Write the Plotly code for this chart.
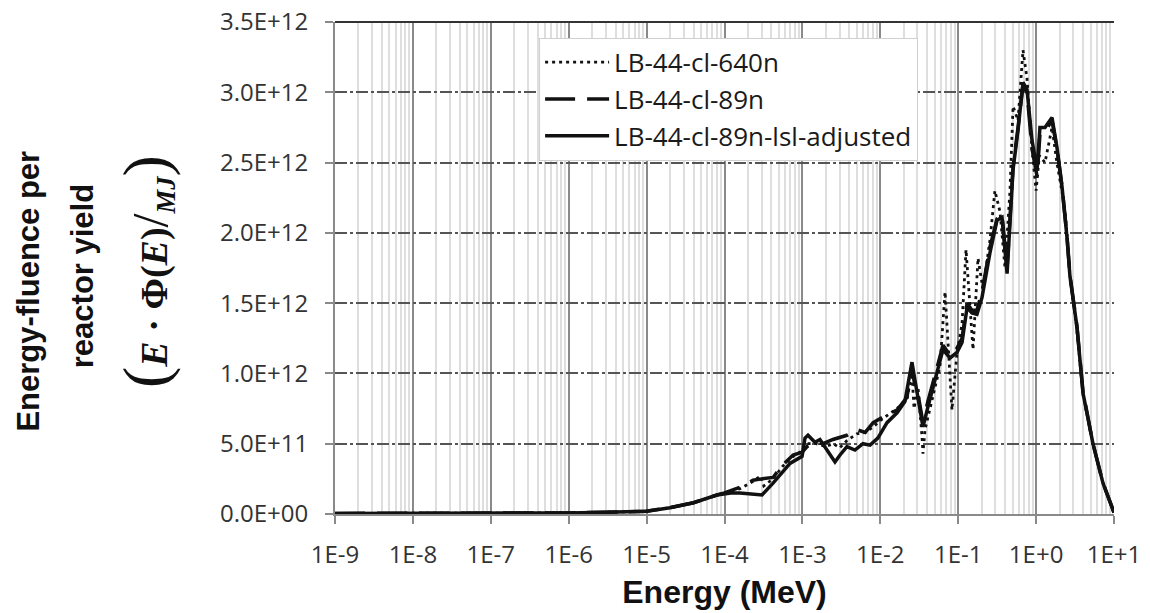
import plotly.graph_objects as go

# ---------------- data (energy in MeV, values in units of 1e12) ----------------
x_tick_vals = [1e-9, 1e-8, 1e-7, 1e-6, 1e-5, 1e-4, 1e-3, 1e-2, 1e-1, 1e0, 1e1]
x_tick_labels = ["1E-9", "1E-8", "1E-7", "1E-6", "1E-5", "1E-4", "1E-3", "1E-2", "1E-1", "1E+0", "1E+1"]
y_tick_vals = [0, 0.5e12, 1.0e12, 1.5e12, 2.0e12, 2.5e12, 3.0e12, 3.5e12]
y_tick_labels = ["0.0E+00", "5.0E+11", "1.0E+12", "1.5E+12", "2.0E+12", "2.5E+12", "3.0E+12", "3.5E+12"]

series_names = ["LB-44-cl-640n", "LB-44-cl-89n", "LB-44-cl-89n-lsl-adjusted"]

# LB-44-cl-89n-lsl-adjusted (solid)
E_adj = [1e-9, 1e-8, 1e-7, 1e-6, 3e-6, 1e-5, 2e-5, 4e-5, 8e-5, 1.2e-4, 1.58e-4, 2.2e-4, 3.03e-4,
         4.2e-4, 6.93e-4, 9.9e-4, 1.08e-3, 1.18e-3, 1.45e-3, 1.68e-3, 2.13e-3, 2.62e-3, 3.04e-3,
         3.73e-3, 4.73e-3, 6.0e-3, 7.38e-3, 9.3e-3, 0.0122, 0.0164, 0.0207, 0.0255, 0.0279, 0.0305,
         0.0353, 0.0408, 0.0535, 0.0638, 0.0785, 0.0966, 0.112, 0.130, 0.150, 0.174, 0.202, 0.256,
         0.315, 0.365, 0.424, 0.462, 0.506, 0.586, 0.679, 0.764, 0.885, 1.03, 1.12, 1.30, 1.60,
         1.85, 2.15, 2.49, 2.72, 3.35, 4.0, 5.37, 7.22, 10.0]
V_adj = [0.004, 0.004, 0.005, 0.008, 0.012, 0.02, 0.045, 0.08, 0.135, 0.15, 0.149, 0.14, 0.135,
         0.22, 0.36, 0.41, 0.54, 0.56, 0.51, 0.53, 0.44, 0.37, 0.42,
         0.48, 0.455, 0.50, 0.49, 0.54, 0.65, 0.72, 0.80, 1.08, 0.95, 0.83,
         0.62, 0.76, 1.00, 1.17, 1.11, 1.15, 1.22, 1.47, 1.43, 1.42, 1.54, 1.86,
         2.09, 2.11, 1.71, 2.11, 2.45, 2.73, 3.07, 3.02, 2.66, 2.45, 2.75, 2.75, 2.82,
         2.61, 2.33, 1.97, 1.69, 1.33, 0.86, 0.50, 0.22, 0.01]

# LB-44-cl-89n (dashed)
E_89 = [1e-9, 1e-8, 1e-7, 1e-6, 3e-6, 1e-5, 2e-5, 4e-5, 8e-5, 1.0e-4, 1.58e-4, 2.32e-4, 3.0e-4,
        4.2e-4, 5.6e-4, 7.6e-4, 9.9e-4, 1.15e-3, 1.54e-3, 1.84e-3, 2.47e-3, 3.73e-3, 5.0e-3,
        6.4e-3, 8.1e-3, 0.0108, 0.0164, 0.022, 0.0255, 0.0279, 0.0305, 0.0353, 0.0408, 0.0535,
        0.0638, 0.0785, 0.0966, 0.112, 0.130, 0.150, 0.174, 0.202, 0.256, 0.315, 0.365, 0.424,
        0.462, 0.506, 0.586, 0.679, 0.764, 0.885, 1.03, 1.12, 1.30, 1.60, 1.85, 2.15, 2.49,
        2.72, 3.35, 4.0, 5.37, 7.22, 10.0]
V_89 = [0.004, 0.004, 0.005, 0.008, 0.012, 0.02, 0.045, 0.08, 0.135, 0.15, 0.19, 0.24, 0.25,
        0.26, 0.35, 0.42, 0.44, 0.48, 0.51, 0.50, 0.53, 0.56, 0.60,
        0.58, 0.65, 0.69, 0.74, 0.83, 1.05, 0.90, 0.85, 0.65, 0.80, 1.05,
        1.20, 1.13, 1.18, 1.25, 1.50, 1.45, 1.45, 1.58, 1.90, 2.10, 2.13, 1.75,
        2.12, 2.47, 2.75, 3.05, 3.00, 2.60, 2.40, 2.70, 2.72, 2.80, 2.60, 2.33, 1.98,
        1.70, 1.33, 0.87, 0.50, 0.22, 0.01]

# LB-44-cl-640n (dotted)
E_640 = [1e-9, 1e-8, 1e-7, 1e-6, 3e-6, 1e-5, 2e-5, 4e-5, 8e-5, 1.0e-4, 1.58e-4, 2.3e-4, 2.9e-4,
         3.2e-4, 4.2e-4, 5.6e-4, 7.6e-4, 1.0e-3, 1.15e-3, 1.5e-3, 2.0e-3, 2.5e-3, 3.0e-3, 3.7e-3,
         5.0e-3, 6.4e-3, 8.1e-3, 0.0108, 0.0164, 0.022, 0.0255, 0.0271, 0.0305, 0.0343, 0.0353,
         0.0375, 0.0435, 0.0583, 0.0678, 0.074, 0.0832, 0.0966, 0.112, 0.126, 0.1416, 0.155,
         0.1795, 0.208, 0.256, 0.296, 0.344, 0.399, 0.462, 0.506, 0.586, 0.679, 0.764, 0.885,
         1.0, 1.1, 1.3, 1.6, 1.85, 2.3, 2.49, 2.72, 3.35, 4.0, 5.37, 7.22, 10.0]
V_640 = [0.004, 0.004, 0.005, 0.008, 0.012, 0.02, 0.045, 0.08, 0.135, 0.15, 0.18, 0.23, 0.27,
         0.20, 0.25, 0.34, 0.41, 0.45, 0.50, 0.50, 0.48, 0.50, 0.47, 0.52,
         0.57, 0.58, 0.62, 0.68, 0.75, 0.82, 1.00, 0.75, 0.90, 0.55, 0.43,
         0.60, 0.75, 1.05, 1.58, 1.20, 0.74, 1.15, 1.35, 1.88, 1.50, 1.17,
         1.82, 1.60, 1.95, 2.30, 2.15, 1.75, 2.30, 2.90, 2.80, 3.30, 3.10, 2.60,
         2.30, 2.55, 2.50, 2.75, 2.50, 2.20, 2.00, 1.70, 1.30, 0.85, 0.50, 0.22, 0.01]

SCALE = 1e12

fig = go.Figure()
fig.add_trace(go.Scatter(x=E_640, y=[v * SCALE for v in V_640], mode="lines", name=series_names[0],
                         line=dict(color="#111111", width=2.8, dash="3px,4px")))
fig.add_trace(go.Scatter(x=E_89, y=[v * SCALE for v in V_89], mode="lines", name=series_names[1],
                         line=dict(color="#111111", width=3.5, dash="30px,12px")))
fig.add_trace(go.Scatter(x=E_adj, y=[v * SCALE for v in V_adj], mode="lines", name=series_names[2],
                         line=dict(color="#111111", width=3.5)))

tick_font = dict(family="Open Sans", size=24, color="#333333")

fig.update_layout(
    width=1150, height=613,
    margin=dict(l=335, r=36, t=22, b=99),
    paper_bgcolor="white", plot_bgcolor="white",
    showlegend=True,
    legend=dict(x=0.262, y=0.968, xanchor="left", yanchor="top",
                bgcolor="white", bordercolor="#d0d0d0", borderwidth=1,
                font=dict(family="Open Sans", size=26, color="#1a1a1a"),
                itemwidth=64, tracegroupgap=0),
    xaxis=dict(type="log", range=[-9, 1], tickmode="array", automargin=False,
               tickvals=x_tick_vals, ticktext=x_tick_labels, tickfont=tick_font,
               showgrid=True, gridcolor="#8a8a8a", gridwidth=2,
               minor=dict(dtick="D1", showgrid=True, gridcolor="#dedede", gridwidth=1.5, ticks=""),
               ticks="outside", ticklen=8, tickwidth=2, tickcolor="#8a8a8a",
               showline=True, linecolor="#8a8a8a", linewidth=2,
               ticklabelstandoff=10,
               title=dict(text="Energy (MeV)", standoff=12,
                          font=dict(family="Liberation Sans", size=32, color="#111111", weight="bold"))),
    yaxis=dict(range=[0, 3.5e12], tickmode="array", tickvals=y_tick_vals, ticktext=y_tick_labels,
               automargin=False,
               tickfont=tick_font, showgrid=True, gridcolor="#555555", gridwidth=1.5,
               griddash="12px,3px,3px,3px", zeroline=False,
               ticks="outside", ticklen=8, tickwidth=2, tickcolor="#8a8a8a",
               showline=True, linecolor="#8a8a8a", linewidth=2,
               ticklabelstandoff=12),
)

# top border of plot area
fig.add_shape(type="line", xref="paper", yref="paper", x0=0, x1=1, y0=1, y1=1,
              line=dict(color="#333333", width=2))

title_font = dict(family="Liberation Sans", size=31, color="#111111", weight="bold")
fig.add_annotation(text="Energy-fluence per", xref="paper", yref="paper", x=-0.3928, y=0.452,
                   textangle=-90, showarrow=False, xanchor="center", yanchor="middle", font=title_font)
fig.add_annotation(text="reactor yield", xref="paper", yref="paper", x=-0.3245, y=0.4837,
                   textangle=-90, showarrow=False, xanchor="center", yanchor="middle", font=title_font)
formula = ('<span style="font-size:64px;font-weight:normal;font-style:normal">(</span>'
           '<i>E</i> · Φ(<i>E</i>)'
           '<span style="font-size:50px;font-weight:normal;font-style:normal">/</span>'
           '<sub><i>MJ</i></sub>'
           '<span style="font-size:64px;font-weight:normal;font-style:normal">)</span>')
fig.add_annotation(text=formula, xref="paper", yref="paper", x=-0.2426, y=0.492,
                   textangle=-90, showarrow=False, xanchor="center", yanchor="middle",
                   font=dict(family="Liberation Serif", size=38, color="#111111", weight="bold"))

fig.write_html("out.html")
